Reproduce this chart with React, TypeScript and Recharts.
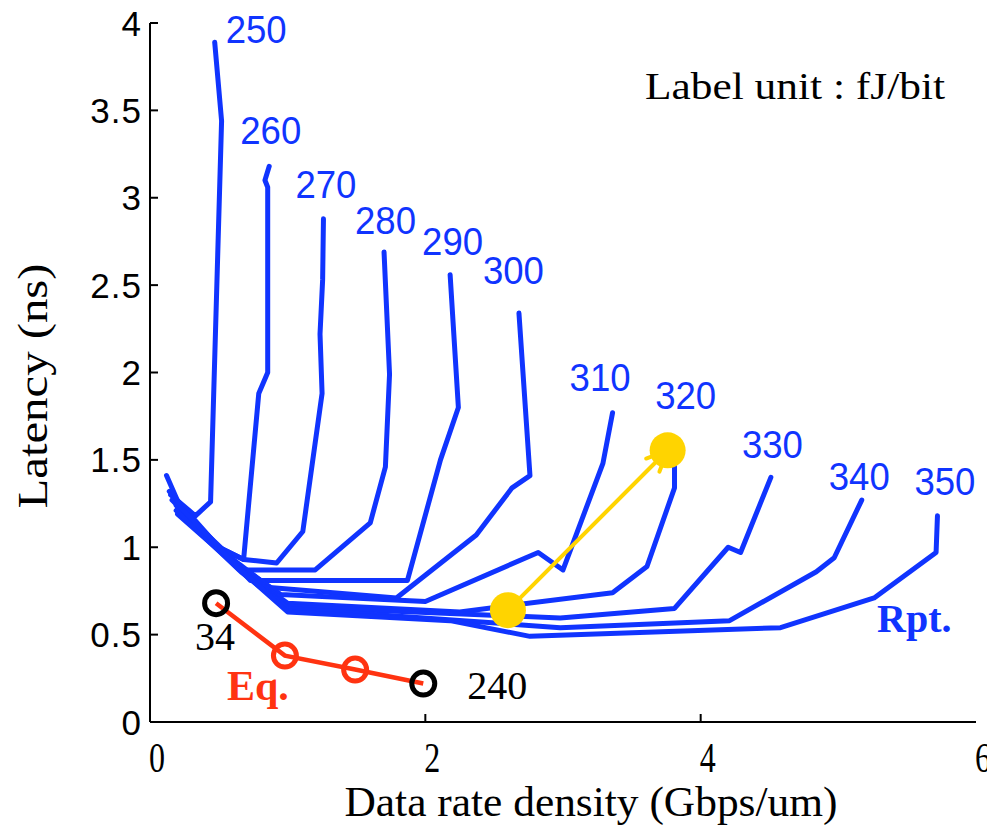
import React from "react";
import { LineChart, Line, XAxis, YAxis, LabelList } from "recharts";

// page / plot geometry
const W = 987;
const H = 827;
const PLOT_LEFT = 150;
const PLOT_TOP = 23;
const PLOT_RIGHT = 976;
const PLOT_BOTTOM = 722;

// Rpt. curves, label = energy in fJ/bit, points are [data rate, latency]
const energyLabels = ["250", "260", "270", "280", "290", "300", "310", "320", "330", "340", "350"];

const rpt250 = [[0.15, 1.3], [0.33, 1.18], [0.44, 1.26], [0.52, 3.44], [0.47, 3.89]];
const rpt260 = [[0.18, 1.26], [0.5, 1.0], [0.68, 0.93], [0.79, 1.88], [0.855, 2.0], [0.855, 3.06], [0.835, 3.1], [0.866, 3.18]];
const rpt270 = [[0.14, 1.32], [0.5, 1.0], [0.68, 0.93], [0.92, 0.91], [1.11, 1.09], [1.25, 1.88], [1.235, 2.22], [1.254, 2.53], [1.26, 2.88]];
const rpt280 = [[0.2, 1.22], [0.65, 0.87], [1.2, 0.87], [1.6, 1.14], [1.71, 1.46], [1.74, 1.99], [1.7, 2.69]];
const rpt290 = [[0.16, 1.27], [0.55, 0.96], [0.73, 0.81], [1.87, 0.81], [2.11, 1.5], [2.24, 1.8], [2.18, 2.56]];
const rpt300 = [[0.19, 1.24], [0.62, 0.92], [0.87, 0.77], [1.79, 0.71], [2.37, 1.07], [2.63, 1.34], [2.76, 1.41], [2.68, 2.34]];
const rpt310 = [[0.2, 1.21], [0.64, 0.9], [0.95, 0.73], [2.0, 0.69], [2.82, 0.97], [3.0, 0.87], [3.29, 1.48], [3.36, 1.77]];
const rpt320 = [[0.21, 1.2], [0.65, 0.88], [1.0, 0.68], [2.25, 0.63], [3.36, 0.74], [3.61, 0.89], [3.81, 1.34], [3.81, 1.46], [3.8, 1.51]];
const rpt330 = [[0.2, 1.19], [0.66, 0.87], [1.0, 0.66], [2.98, 0.595], [3.81, 0.65], [4.2, 1.0], [4.29, 0.97], [4.51, 1.4]];
const rpt340 = [[0.19, 1.21], [0.66, 0.86], [1.0, 0.65], [2.98, 0.54], [4.21, 0.58], [4.84, 0.86], [4.97, 0.94], [5.17, 1.27]];
const rpt350 = [[0.12, 1.41], [0.22, 1.23], [0.67, 0.86], [1.0, 0.63], [2.18, 0.58], [2.76, 0.49], [4.58, 0.54], [5.26, 0.71], [5.71, 0.97], [5.72, 1.18]];

const rptCurves = [rpt250, rpt260, rpt270, rpt280, rpt290, rpt300, rpt310, rpt320, rpt330, rpt340, rpt350];

// Eq. curve and its end labels
const eqCurve = [[0.48, 0.68], [0.98, 0.38], [1.49, 0.3], [1.985, 0.22]];
const eqEndLabels = ["34", "240"];

// yellow arrow (start -> end)
const arrowPath = [[2.6, 0.64], [3.76, 1.555]];

const xTicks = [0, 2, 4, 6];
const yTicks = [0, 0.5, 1, 1.5, 2, 2.5, 3, 3.5, 4];

const BLUE = "#1034ff";
const RED = "#ff3311";
const YELLOW = "#ffd400";

// where each energy label sits relative to the curve's last point (px)
const labelOffsets = [
  [11, 1], [-29, -22], [-28, -21], [-29, -18], [-28, -20], [-36, -29],
  [-43, -22], [-18, -49], [-29, -19], [-33, -10], [-23, -21],
];

const toPts = (arr: number[][]) => arr.map(([x, y]) => ({ x, y }));

const YTick = (props: any) => {
  const { y, payload } = props;
  return (
    <g>
      <line x1={PLOT_LEFT} x2={PLOT_LEFT + 8} y1={y} y2={y} stroke="#000" strokeWidth={2} />
      <text
        x={PLOT_LEFT - 8}
        y={y}
        dy="0.36em"
        textAnchor="end"
        fontFamily="Liberation Sans"
        fontSize={35}
        letterSpacing={1}
        fill="#000"
      >
        {payload.value}
      </text>
    </g>
  );
};

const XTick = (props: any) => {
  const { x, payload } = props;
  return (
    <g>
      {payload.value > 0 && payload.value < 6 && (
        <line x1={x} x2={x} y1={PLOT_BOTTOM} y2={PLOT_BOTTOM - 8} stroke="#000" strokeWidth={2} />
      )}
      <text
        x={x + 7}
        y={772}
        textAnchor="middle"
        fontFamily="Liberation Serif"
        fontSize={42}
        textLength={16}
        lengthAdjust="spacingAndGlyphs"
        fill="#000"
      >
        {payload.value}
      </text>
    </g>
  );
};

const pxPerX = (PLOT_RIGHT - PLOT_LEFT) / 6;
const pxPerY = (PLOT_BOTTOM - PLOT_TOP) / 4;

const ArrowDot = (props: any) => {
  const { cx, cy, index } = props;
  if (cx == null || cy == null) return <g key={`ad${index}`} />;
  let barbs = null;
  if (index === 1) {
    const dx = (arrowPath[0][0] - arrowPath[1][0]) * pxPerX;
    const dy = -(arrowPath[0][1] - arrowPath[1][1]) * pxPerY;
    const len = Math.hypot(dx, dy);
    const ux = dx / len;
    const uy = dy / len;
    const a = (24 * Math.PI) / 180;
    const L = 23;
    const b1 = [ux * Math.cos(a) - uy * Math.sin(a), ux * Math.sin(a) + uy * Math.cos(a)];
    const b2 = [ux * Math.cos(-a) - uy * Math.sin(-a), ux * Math.sin(-a) + uy * Math.cos(-a)];
    barbs = (
      <g>
        <line x1={cx} y1={cy} x2={cx + b1[0] * L} y2={cy + b1[1] * L} stroke={YELLOW} strokeWidth={4} strokeLinecap="round" />
        <line x1={cx} y1={cy} x2={cx + b2[0] * L} y2={cy + b2[1] * L} stroke={YELLOW} strokeWidth={4} strokeLinecap="round" />
      </g>
    );
  }
  return (
    <g key={`ad${index}`}>
      {barbs}
      <circle cx={cx} cy={cy} r={18} fill={YELLOW} />
    </g>
  );
};

const EqDot = (props: any) => {
  const { cx, cy, index } = props;
  const end = index === 0 || index === eqCurve.length - 1;
  return (
    <circle
      key={`eq${index}`}
      cx={cx}
      cy={cy}
      r={11.5}
      fill="none"
      stroke={end ? "#000" : RED}
      strokeWidth={5}
    />
  );
};

export default function App() {
  return (
    <div
      style={{
        position: "absolute",
        left: 0,
        top: 0,
        width: W,
        height: H,
        overflow: "hidden",
        background: "#fff",
      }}
    >
      <LineChart
        width={W + 30}
        height={H}
        margin={{ top: PLOT_TOP, right: W + 30 - PLOT_RIGHT, left: 0, bottom: 0 }}
      >
        <XAxis
          type="number"
          dataKey="x"
          domain={[0, 6]}
          ticks={xTicks}
          height={H - PLOT_BOTTOM}
          axisLine={{ stroke: "#000", strokeWidth: 2 }}
          tickLine={false}
          tick={<XTick />}
          interval={0}
        />
        <YAxis
          type="number"
          dataKey="y"
          domain={[0, 4]}
          ticks={yTicks}
          width={PLOT_LEFT}
          axisLine={{ stroke: "#000", strokeWidth: 2 }}
          tickLine={false}
          tick={<YTick />}
          interval={0}
        />
        {rptCurves.map((c, i) => (
          <Line
            key={energyLabels[i]}
            data={toPts(c)}
            dataKey="y"
            type="linear"
            stroke={BLUE}
            strokeWidth={5}
            strokeLinejoin="round"
            strokeLinecap="round"
            dot={false}
            isAnimationActive={false}
          >
            <LabelList
              dataKey="y"
              content={(p: any) =>
                p.index === c.length - 1 ? (
                  <text
                    key={`lbl${i}`}
                    x={p.x + labelOffsets[i][0]}
                    y={p.y + labelOffsets[i][1]}
                    fontFamily="Liberation Sans"
                    fontSize={38}
                    textLength={61}
                    lengthAdjust="spacingAndGlyphs"
                    fill={BLUE}
                  >
                    {energyLabels[i]}
                  </text>
                ) : null
              }
            />
          </Line>
        ))}
        <Line
          data={toPts(eqCurve)}
          dataKey="y"
          type="linear"
          stroke={RED}
          strokeWidth={4.5}
          dot={<EqDot />}
          isAnimationActive={false}
        >
          <LabelList
            dataKey="y"
            content={(p: any) => {
              if (p.index === 0)
                return (
                  <text key="eqs" x={p.x - 21} y={p.y + 47} fontFamily="Liberation Serif" fontSize={40} fill="#000">
                    {eqEndLabels[0]}
                  </text>
                );
              if (p.index === eqCurve.length - 1)
                return (
                  <text key="eqe" x={p.x + 44} y={p.y + 15} fontFamily="Liberation Serif" fontSize={40} fill="#000">
                    {eqEndLabels[1]}
                  </text>
                );
              return null;
            }}
          />
        </Line>
        <Line
          data={toPts(arrowPath)}
          dataKey="y"
          type="linear"
          stroke={YELLOW}
          strokeWidth={4}
          dot={<ArrowDot />}
          isAnimationActive={false}
        />
      </LineChart>
      <svg
        width={W}
        height={H}
        style={{ position: "absolute", left: 0, top: 0, pointerEvents: "none" }}
      >
        <text
          x={645}
          y={99}
          fontFamily="Liberation Serif"
          fontSize={38}
          textLength={300}
          lengthAdjust="spacingAndGlyphs"
          fill="#000"
        >
          Label unit : fJ/bit
        </text>
        <text x={877} y={632} fontFamily="Liberation Serif" fontWeight="bold" fontSize={40} fill={BLUE}>
          Rpt.
        </text>
        <text x={227} y={700} fontFamily="Liberation Serif" fontWeight="bold" fontSize={42} fill={RED}>
          Eq.
        </text>
        <text
          transform="translate(47,386) rotate(-90)"
          textAnchor="middle"
          fontFamily="Liberation Serif"
          fontSize={43}
          textLength={245}
          lengthAdjust="spacingAndGlyphs"
          fill="#000"
        >
          Latency (ns)
        </text>
        <text
          x={591}
          y={816}
          textAnchor="middle"
          fontFamily="Liberation Serif"
          fontSize={42}
          textLength={493}
          lengthAdjust="spacingAndGlyphs"
          fill="#000"
        >
          Data rate density (Gbps/um)
        </text>
      </svg>
    </div>
  );
}
